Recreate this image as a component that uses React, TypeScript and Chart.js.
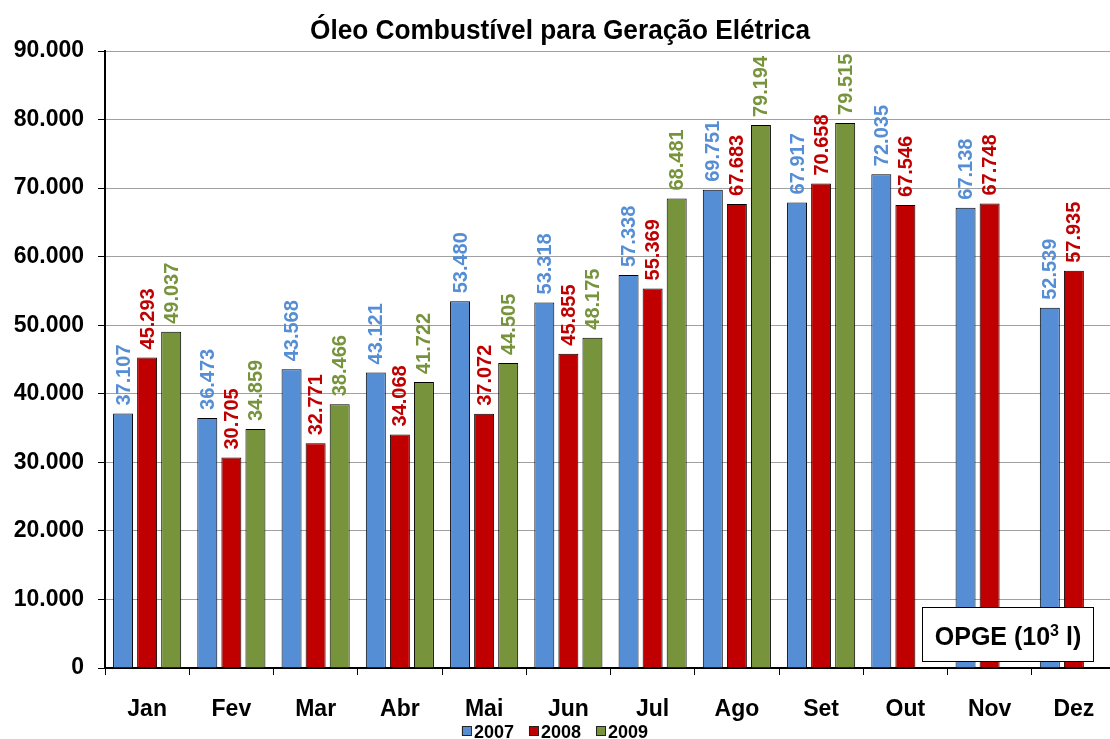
import React, { useEffect, useRef } from "react";
import { Chart, registerables } from "chart.js";

Chart.register(...registerables);

const months = ["Jan", "Fev", "Mar", "Abr", "Mai", "Jun", "Jul", "Ago", "Set", "Out", "Nov", "Dez"];
const seriesNames = ["2007", "2008", "2009"];
const v2007 = [37107, 36473, 43568, 43121, 53480, 53318, 57338, 69751, 67917, 72035, 67138, 52539];
const v2008 = [45293, 30705, 32771, 34068, 37072, 45855, 55369, 67683, 70658, 67546, 67748, 57935];
const v2009 = [49037, 34859, 38466, 41722, 44505, 48175, 68481, 79194, 79515, null, null, null];
const colors = ["#558ED5", "#C00000", "#77933C"];
const titleText = "Óleo Combustível para Geração Elétrica";
const boxText = ["OPGE (10", "3", " l)"];

const FONT = '"Liberation Sans", Arial, Helvetica, sans-serif';

function fmt(v: number): string {
  return String(Math.round(v)).replace(/\B(?=(\d{3})+(?!\d))/g, ".");
}

const overlayPlugin = {
  id: "overlay",
  afterDatasetsDraw(chart: any) {
    const ctx = chart.ctx;
    ctx.save();
    chart.data.datasets.forEach((ds: any, di: number) => {
      const meta = chart.getDatasetMeta(di);
      meta.data.forEach((el: any, i: number) => {
        const v = ds.data[i];
        if (v === null || v === undefined) return;
        ctx.save();
        ctx.translate(el.x + 1, el.y - 8);
        ctx.rotate(-Math.PI / 2);
        ctx.font = `bold 20px ${FONT}`;
        ctx.fillStyle = ds.backgroundColor;
        ctx.textAlign = "left";
        ctx.textBaseline = "middle";
        ctx.fillText(fmt(v), 0, 0);
        ctx.restore();
      });
    });
    ctx.restore();
  },
  afterDraw(chart: any) {
    const ctx = chart.ctx;
    ctx.save();
    // Title
    ctx.font = `bold 28px "Liberation Sans Narrow", "Arial Narrow", ${FONT}`;
    const tw = ctx.measureText(titleText).width;
    const sx = 500 / tw;
    ctx.translate(560, 39);
    ctx.scale(sx, 1);
    ctx.fillStyle = "#000";
    ctx.textAlign = "center";
    ctx.textBaseline = "alphabetic";
    ctx.fillText(titleText, 0, 0);
    ctx.restore();

    // Legend
    ctx.save();
    ctx.font = `bold 18px ${FONT}`;
    ctx.textBaseline = "alphabetic";
    ctx.textAlign = "left";
    const box = 9;
    const gapBoxText = 3;
    const gapItems = 15;
    const widths = chart.data.datasets.map((ds: any) => box + gapBoxText + ctx.measureText(ds.label).width);
    const total = widths.reduce((a: number, b: number) => a + b, 0) + gapItems * (widths.length - 1);
    let x = 555 - total / 2;
    chart.data.datasets.forEach((ds: any, i: number) => {
      ctx.fillStyle = ds.backgroundColor;
      ctx.fillRect(x, 726.5, box, box);
      ctx.strokeStyle = "#222";
      ctx.lineWidth = 1;
      ctx.strokeRect(x + 0.5, 726.5, box, box);
      ctx.fillStyle = "#000";
      ctx.fillText(ds.label, x + box + gapBoxText, 737.5);
      x += widths[i] + gapItems;
    });
    ctx.restore();

    // OPGE box
    ctx.save();
    const bx = 922.5, by = 607.5, bw = 171, bh = 54;
    ctx.fillStyle = "#fff";
    ctx.fillRect(bx, by, bw, bh);
    ctx.strokeStyle = "#000";
    ctx.lineWidth = 1;
    ctx.strokeRect(bx, by, bw, bh);
    ctx.fillStyle = "#000";
    ctx.textBaseline = "alphabetic";
    ctx.textAlign = "left";
    const big = `bold 25px ${FONT}`;
    const small = `bold 16px ${FONT}`;
    ctx.font = big;
    const w1 = ctx.measureText(boxText[0]).width;
    const w3 = ctx.measureText(boxText[2]).width;
    ctx.font = small;
    const w2 = ctx.measureText(boxText[1]).width;
    let tx = bx + bw / 2 - (w1 + w2 + w3) / 2;
    const base = 645;
    ctx.font = big;
    ctx.fillText(boxText[0], tx, base);
    tx += w1;
    ctx.font = small;
    ctx.fillText(boxText[1], tx, base - 9);
    tx += w2;
    ctx.font = big;
    ctx.fillText(boxText[2], tx, base);
    ctx.restore();
  },
};

export default function App() {
  const ref = useRef<HTMLCanvasElement | null>(null);
  useEffect(() => {
    if (!ref.current) return;
    const values = [v2007, v2008, v2009];
    const chart = new Chart(ref.current, {
      type: "bar",
      data: {
        labels: months,
        datasets: seriesNames.map((name, i) => ({
          label: name,
          data: values[i] as any,
          backgroundColor: colors[i],
          borderColor: "#000",
          borderWidth: 1,
          categoryPercentage: 0.857,
          barPercentage: 0.83,
        })),
      },
      options: {
        responsive: false,
        animation: false,
        layout: { padding: { top: 51, left: 0, right: 0, bottom: 0 } },
        plugins: {
          legend: { display: false },
          title: { display: false },
          tooltip: { enabled: false },
        },
        scales: {
          x: {
            offset: true,
            grid: {
              offset: true,
              display: true,
              drawOnChartArea: false,
              drawTicks: true,
              tickLength: 7,
              tickColor: "#000",
              tickWidth: 1,
            },
            border: { display: true, color: "#000", width: 2 },
            ticks: {
              color: "#000",
              font: { family: FONT, size: 23, weight: "bold" },
              padding: 21,
              maxRotation: 0,
              autoSkip: false,
            },
            afterFit(scale: any) {
              scale.height = 71;
            },
          },
          y: {
            min: 0,
            max: 90000,
            grid: {
              color: "#A0A0A0",
              lineWidth: 1,
              drawTicks: true,
              tickLength: 7,
              tickColor: "#000",
              tickWidth: 1,
            },
            border: { display: true, color: "#000", width: 2 },
            ticks: {
              stepSize: 10000,
              color: "#000",
              font: { family: FONT, size: 23, weight: "bold" },
              padding: 14,
              callback: (v: any) => fmt(Number(v)),
            },
            afterFit(scale: any) {
              scale.width = 105;
            },
          },
        },
      },
      plugins: [overlayPlugin],
    });
    return () => chart.destroy();
  }, []);
  return (
    <div
      style={{
        position: "fixed",
        left: 0,
        top: 0,
        width: 1110,
        height: 739,
        overflow: "hidden",
        background: "#fff",
      }}
    >
      <canvas ref={ref} width={1116} height={739} style={{ display: "block" }} />
    </div>
  );
}
